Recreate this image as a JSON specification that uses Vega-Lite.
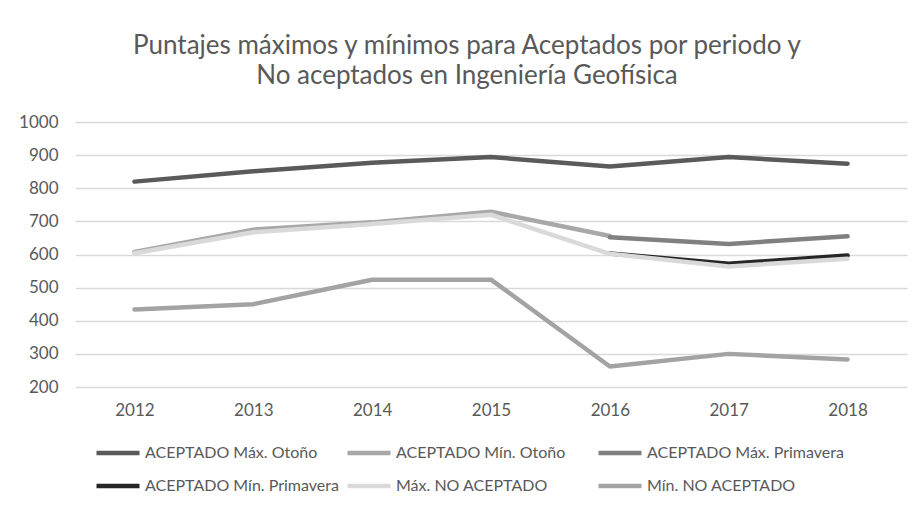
{
  "$schema": "https://vega.github.io/schema/vega-lite/v6.json",
  "width": 832,
  "height": 265,
  "autosize": {"type": "none"},
  "padding": {"left": 75, "top": 122, "right": 9, "bottom": 119},
  "background": "white",
  "config": {"view": {"stroke": null}, "font": "Lato"},
  "title": {
    "text": ["Puntajes máximos y mínimos para Aceptados por periodo y", "No aceptados en Ingeniería Geofísica"],
    "anchor": "middle",
    "dx": -24,
    "offset": 24,
    "font": "Lato",
    "fontSize": 26,
    "fontWeight": "normal",
    "color": "#595959",
    "lineHeight": 30
  },
  "data": {
    "values": [
      {"year": "2012", "serie": "ACEPTADO Máx. Otoño", "valor": 820},
      {"year": "2013", "serie": "ACEPTADO Máx. Otoño", "valor": 851},
      {"year": "2014", "serie": "ACEPTADO Máx. Otoño", "valor": 877},
      {"year": "2015", "serie": "ACEPTADO Máx. Otoño", "valor": 894},
      {"year": "2016", "serie": "ACEPTADO Máx. Otoño", "valor": 866},
      {"year": "2017", "serie": "ACEPTADO Máx. Otoño", "valor": 894},
      {"year": "2018", "serie": "ACEPTADO Máx. Otoño", "valor": 874},
      {"year": "2012", "serie": "ACEPTADO Mín. Otoño", "valor": 608},
      {"year": "2013", "serie": "ACEPTADO Mín. Otoño", "valor": 675},
      {"year": "2014", "serie": "ACEPTADO Mín. Otoño", "valor": 697},
      {"year": "2015", "serie": "ACEPTADO Mín. Otoño", "valor": 729},
      {"year": "2016", "serie": "ACEPTADO Mín. Otoño", "valor": 656},
      {"year": "2016", "serie": "ACEPTADO Máx. Primavera", "valor": 652},
      {"year": "2017", "serie": "ACEPTADO Máx. Primavera", "valor": 632},
      {"year": "2018", "serie": "ACEPTADO Máx. Primavera", "valor": 655},
      {"year": "2016", "serie": "ACEPTADO Mín. Primavera", "valor": 603},
      {"year": "2017", "serie": "ACEPTADO Mín. Primavera", "valor": 572},
      {"year": "2018", "serie": "ACEPTADO Mín. Primavera", "valor": 597},
      {"year": "2012", "serie": "Máx. NO ACEPTADO", "valor": 604},
      {"year": "2013", "serie": "Máx. NO ACEPTADO", "valor": 667},
      {"year": "2014", "serie": "Máx. NO ACEPTADO", "valor": 692},
      {"year": "2015", "serie": "Máx. NO ACEPTADO", "valor": 720},
      {"year": "2016", "serie": "Máx. NO ACEPTADO", "valor": 602},
      {"year": "2017", "serie": "Máx. NO ACEPTADO", "valor": 564},
      {"year": "2018", "serie": "Máx. NO ACEPTADO", "valor": 587},
      {"year": "2012", "serie": "Mín. NO ACEPTADO", "valor": 434},
      {"year": "2013", "serie": "Mín. NO ACEPTADO", "valor": 450},
      {"year": "2014", "serie": "Mín. NO ACEPTADO", "valor": 524},
      {"year": "2015", "serie": "Mín. NO ACEPTADO", "valor": 524},
      {"year": "2016", "serie": "Mín. NO ACEPTADO", "valor": 262},
      {"year": "2017", "serie": "Mín. NO ACEPTADO", "valor": 300},
      {"year": "2018", "serie": "Mín. NO ACEPTADO", "valor": 283}
    ]
  },
  "mark": {"type": "line", "strokeWidth": 4.5, "strokeCap": "round", "strokeJoin": "round"},
  "encoding": {
    "x": {
      "field": "year",
      "type": "ordinal",
      "scale": {"type": "point", "padding": 0.5},
      "axis": {
        "title": null,
        "labelAngle": 0,
        "domain": false,
        "ticks": false,
        "grid": false,
        "labelFontSize": 17,
        "labelColor": "#595959",
        "labelPadding": 15
      }
    },
    "y": {
      "field": "valor",
      "type": "quantitative",
      "scale": {"domain": [200, 1000], "nice": false, "zero": false},
      "axis": {
        "title": null,
        "values": [200, 300, 400, 500, 600, 700, 800, 900, 1000],
        "format": "d",
        "domain": false,
        "ticks": false,
        "grid": true,
        "gridColor": "#D9D9D9",
        "gridWidth": 1.3,
        "labelFontSize": 17,
        "labelColor": "#595959",
        "labelPadding": 17
      }
    },
    "color": {
      "field": "serie",
      "type": "nominal",
      "sort": null,
      "scale": {
        "domain": ["ACEPTADO Máx. Otoño", "ACEPTADO Mín. Otoño", "ACEPTADO Máx. Primavera", "ACEPTADO Mín. Primavera", "Máx. NO ACEPTADO", "Mín. NO ACEPTADO"],
        "range": ["#5A5A5A", "#A8A8A8", "#808080", "#262626", "#D9D9D9", "#A3A3A3"]
      },
      "legend": {
        "title": null,
        "orient": "none",
        "legendX": 19,
        "legendY": 307,
        "direction": "horizontal",
        "columns": 3,
        "gridAlign": "all",
        "columnPadding": -4,
        "rowPadding": -8,
        "symbolType": "stroke",
        "symbolSize": 1849,
        "symbolStrokeWidth": 4.5,
        "labelFontSize": 16,
        "labelColor": "#595959",
        "labelOffset": 3,
        "labelLimit": 300
      }
    }
  }
}
